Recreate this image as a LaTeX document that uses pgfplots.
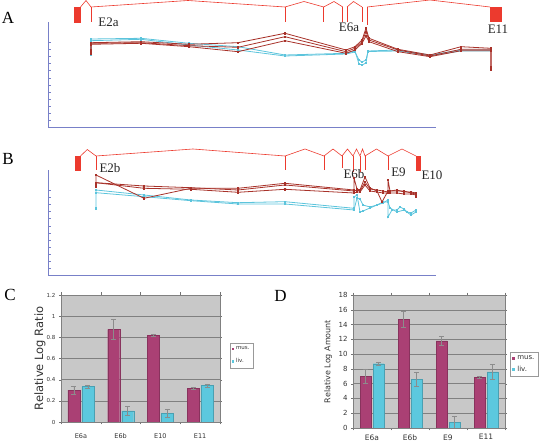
\documentclass[border=0pt]{standalone}
\usepackage{fontspec}
\setmainfont{Liberation Serif}
\newfontfamily\ver{DejaVu Sans}
\usepackage{pgfplots}
\pgfplotsset{compat=1.18}
\definecolor{axblue}{RGB}{120,128,200}
\definecolor{genered}{RGB}{236,58,46}
\definecolor{dred}{RGB}{168,50,42}
\definecolor{cyanl}{RGB}{92,196,220}
\definecolor{mus}{RGB}{170,64,116}
\definecolor{liv}{RGB}{92,200,222}
\definecolor{plotgray}{RGB}{200,200,200}
\tikzset{glab/.style={font=\fontsize{13}{13}\selectfont, text=black!85}}
\pgfplotsset{
 track/.style={scale only axis, width=388pt, height=105pt, xmin=48, xmax=436, ymin=0, ymax=105,
   axis x line=bottom, axis y line=left, axis line style={axblue, line width=0.7pt, -},
   xtick=\empty, ytick={6.6,13.7,20.8,27.9,35.0,42.1,49.2,56.3,63.4,70.5,77.6,84.7}, yticklabels={},
   tick style={axblue, line width=0.5pt}, major tick length=2.5pt, tick align=inside, clip=false},
 rd/.style={dred, line width=0.8pt, mark=square*, mark size=0.7pt, mark options={solid}},
 cy/.style={cyanl, line width=0.8pt, mark=square*, mark size=0.7pt, mark options={solid}},
 gene/.style={genered, line width=0.6pt, mark=none},
 exl/.style={genered, line width=1pt, mark=none},
 exon/.style={genered, fill=genered, draw=genered, line width=0.3pt, mark=none},
 bars/.style={scale only axis, ybar, bar width=#1, xmin=-0.5, xmax=3.5, xtick={0,1,2,3},
   axis background/.style={fill=plotgray}, ymajorgrids, major grid style={black!50, line width=0.4pt},
   axis line style={black!50, line width=0.4pt}, major x tick style={draw=none},
   minor xtick={-0.5,0.5,1.5,2.5,3.5}, minor x tick style={black!55}, minor tick length=2.5pt,
   major y tick style={black!55}, major tick length=2pt, tick align=outside,
   /pgf/number format/assume math mode=true,
   error bars/y dir=both, error bars/y explicit,
   error bars/error bar style={black!45, line width=0.4pt},
   error bars/error mark options={rotate=90, black!45, mark size=2.5pt, line width=0.4pt},
   legend cell align=left},
}
\begin{document}
\begin{tikzpicture}
\useasboundingbox (0,0) rectangle (544pt,442pt);
% ---------------- Panel A ----------------
\node[font=\fontsize{17}{17}\selectfont] at (8pt,424pt) {A};
\begin{axis}[track, at={(48pt,315pt)}, anchor=south west]
 % gene structure
 \addplot[exon] coordinates {(74.5,105) (80.5,105) (80.5,120) (74.5,120)} -- cycle;
 \addplot[gene] coordinates {(80.5,120) (86,126.5) (91,120) (188,126.5) (285,120) (304,125.5) (323.7,120) (334,125.5) (342.8,120)};
 \addplot[gene] coordinates {(347,120) (353.5,125.5) (362,120)};
 \addplot[gene] coordinates {(367.2,120) (430,127) (490,120)};
 \addplot[exl] coordinates {(91,105) (91,120)};
 \addplot[exl] coordinates {(285,105) (285,120)};
 \addplot[exl] coordinates {(323.7,105) (323.7,120)};
 \addplot[exl] coordinates {(342.8,105) (342.8,120)};
 \addplot[exl] coordinates {(347,105) (347,120)};
 \addplot[exl] coordinates {(362,105) (362,120)};
 \addplot[exl] coordinates {(367.2,102) (367.2,120)};
 \addplot[exon] coordinates {(490,105.5) (501.5,105.5) (501.5,120) (490,120)} -- cycle;
 \node[glab] at (axis cs:108.5,104.5) {E2a};
 \node[glab] at (axis cs:349,100) {E6a};
 \node[glab] at (axis cs:498,98) {E11};
 % data: liver
 \addplot[cy] coordinates {(91,73.7) (91,88) (141,88.7) (189,83.7) (238,80.3) (285,72) (346,73.7) (355,76) (359,63) (362,62) (366,64) (368,76) (398,77) (430,72) (461,77) (491,77)};
 \addplot[cy] coordinates {(91,72) (91,86.3) (141,87.7) (189,82) (238,77) (285,71) (346,73) (355,75) (359,67) (362,65) (366,67) (368,75.5) (398,76) (430,71.3) (461,76) (491,76)};
 % data: muscle
 \addplot[rd] coordinates {(91,75.3) (91,84.3) (141,85.3) (189,82.7) (238,84.3) (285,93.7) (346,77) (355,80.3) (362,87) (366,98.7) (369,88.7) (398,77.7) (430,72) (461,80.3) (491,78.7) (491,60.3)};
 \addplot[rd] coordinates {(91,77) (91,83.7) (141,84.3) (189,81.3) (238,79.7) (285,90.3) (346,75.3) (355,78.7) (362,85.3) (366,95.3) (369,87) (398,77) (430,71) (461,77.7) (491,77.7) (491,58.7)};
 \addplot[rd] coordinates {(91,73.7) (91,82.7) (141,83.7) (189,80.3) (238,75.3) (285,86.3) (346,73.7) (355,77) (362,83.7) (366,91) (369,85.3) (398,75.3) (430,70.3) (461,76.3) (491,76.3) (491,57)};
\end{axis}
% ---------------- Panel B ----------------
\node[font=\fontsize{17}{17}\selectfont] at (8pt,283pt) {B};
\begin{axis}[track, at={(48pt,167pt)}, anchor=south west]
 \addplot[exon] coordinates {(75.5,105) (80.5,105) (80.5,119) (75.5,119)} -- cycle;
 \addplot[gene] coordinates {(80.5,119) (87.3,125.5) (96,119) (193,126) (285,119) (305,126) (324,119) (333,126) (342,119) (347.5,126) (353,119) (356.5,126) (360,119) (362.5,126) (365,119) (376.5,126) (388,119) (402,126) (416,119)};
 \addplot[exl] coordinates {(96,105) (96,119)};
 \addplot[exl] coordinates {(285,105) (285,119)};
 \addplot[exl] coordinates {(324,105) (324,119)};
 \addplot[exl] coordinates {(342,107) (342,119)};
 \addplot[exl] coordinates {(353,103) (353,119)};
 \addplot[exl] coordinates {(360,103) (360,119)};
 \addplot[exl] coordinates {(365,105) (365,119)};
 \addplot[exl] coordinates {(388,105) (388,119)};
 \addplot[exon] coordinates {(416,105) (420,105) (420,119) (416,119)} -- cycle;
 \node[glab] at (axis cs:110,106.5) {E2b};
 \node[glab] at (axis cs:354,101) {E6b};
 \node[glab] at (axis cs:398.5,103) {E9};
 \node[glab] at (axis cs:432,100) {E10};
 % liver
 \addplot[cy] coordinates {(96,66.7) (96,85) (144,80) (191,75) (238,72.3) (285,73.3) (354,66.7) (354,78) (357,80) (360,63) (363,64) (370,67) (377,70) (383,72) (388,75) (388,58) (392,65) (397,65) (400,68) (404,66) (407,63) (411,62) (416,65)};
 \addplot[cy] coordinates {(96,82.3) (144,78.3) (191,74.3) (238,71) (285,71) (354,65) (357,77) (360,76) (363,70) (370,68) (377,70) (383,73) (388,73) (390,67) (397,63) (404,65) (411,60) (416,63)};
 % muscle
 \addplot[rd] coordinates {(96,90) (96,100) (144,76.7) (191,86.7) (238,86.7) (285,91.7) (354,85) (354,97) (357,86) (360,85) (365,98) (370,87) (377,84) (382,73) (388,84) (388,95) (390,84) (397,85) (404,83) (411,83) (416,82) (416,78)};
 \addplot[rd] coordinates {(96,92.3) (144,89) (191,87.3) (238,85) (285,90) (354,84) (357,85) (360,84) (365,93) (370,86) (377,85) (383,84) (388,83) (390,84) (397,84) (404,84) (411,82) (416,81)};
 \addplot[rd] coordinates {(96,88) (96,92.3) (144,86.7) (191,85.7) (238,82.7) (285,85.7) (354,82) (357,83) (360,83) (365,90) (370,84) (377,83) (383,82) (388,82) (390,82) (397,82) (404,81) (411,81) (416,80)};
\end{axis}
% ---------------- Panel C ----------------
\node[font=\fontsize{17}{17}\selectfont] at (10pt,147.5pt) {C};
\begin{axis}[bars=12pt, at={(61pt,20pt)}, anchor=south west, width=159pt, height=127pt,
  ymin=0, ymax=1.2, ytick={0,0.2,0.4,0.6,0.8,1,1.2},
  xticklabels={E6a,E6b,E10,E11},
  yticklabel style={font=\ver\fontsize{5.5}{6}\selectfont, text=black!80},
  xticklabel style={font=\ver\fontsize{6.5}{7}\selectfont, text=black!80, yshift=-6pt},
  ylabel={Relative Log Ratio}, ylabel style={font=\ver\fontsize{11.5}{12}\selectfont, text=black!80, at={(axis description cs:-0.132,0.5)}, anchor=center},
  legend style={at={(1.063,0.622)}, anchor=north west, draw=black!40, fill=white, font=\ver\fontsize{5.5}{6}\selectfont, inner sep=1.5pt, row sep=3.5pt, text=black!80},
  legend image code/.code={\fill[#1, draw=none] (0pt,-1.2pt) rectangle (2.4pt,1.2pt);}]
 \addplot[fill=mus, draw=mus!80!black, line width=0.2pt] coordinates {(0,0.30) +- (0,0.04) (1,0.875) +- (0,0.095) (2,0.82) +- (0,0.012) (3,0.32) +- (0,0.01)};
 \addplot[fill=liv, draw=liv!80!black, line width=0.2pt] coordinates {(0,0.335) +- (0,0.015) (1,0.105) +- (0,0.045) (2,0.085) +- (0,0.035) (3,0.345) +- (0,0.015)};
 \legend{mus.,liv.}
\end{axis}
% ---------------- Panel D ----------------
\node[font=\fontsize{17}{17}\selectfont] at (280.5pt,146pt) {D};
\begin{axis}[bars=11pt, at={(353pt,14pt)}, anchor=south west, width=152pt, height=133pt,
  ymin=0, ymax=18, ytick={0,2,...,18},
  xticklabels={E6a,E6b,E9,E11},
  yticklabel style={font=\ver\fontsize{7}{8}\selectfont, text=black!80},
  xticklabel style={font=\ver\fontsize{7.5}{8}\selectfont, text=black!80, yshift=-1pt},
  ylabel={Relative Log Amount}, ylabel style={font=\ver\fontsize{8}{9}\selectfont, text=black!80, at={(axis description cs:-0.164,0.5)}, anchor=center},
  legend style={at={(1.033,0.571)}, anchor=north west, draw=black!40, fill=white, font=\ver\fontsize{7}{8}\selectfont, inner sep=1.5pt, row sep=1pt, text=black!80},
  legend image code/.code={\fill[#1, draw=none] (0pt,-1.8pt) rectangle (3.6pt,1.8pt);}]
 \addplot[fill=mus, draw=mus!80!black, line width=0.2pt] coordinates {(0,7.0) +- (0,1.0) (1,14.7) +- (0,1.1) (2,11.8) +- (0,0.6) (3,6.9) +- (0,0.1)};
 \addplot[fill=liv, draw=liv!80!black, line width=0.2pt] coordinates {(0,8.7) +- (0,0.25) (1,6.6) +- (0,0.9) (2,0.8) +- (0,0.8) (3,7.6) +- (0,1.0)};
 \legend{mus.,liv.}
\end{axis}
\end{tikzpicture}
\end{document}
